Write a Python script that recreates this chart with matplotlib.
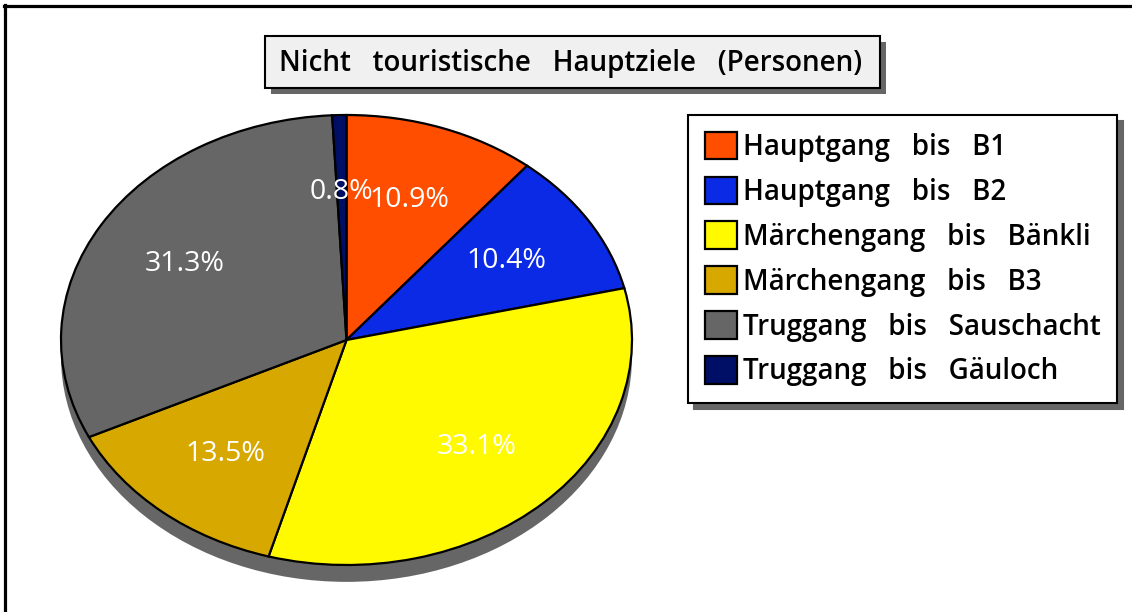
import matplotlib
matplotlib.use("Agg")
import matplotlib.pyplot as plt
from matplotlib.patches import Ellipse, Rectangle

labels = ["Hauptgang   bis   B1", "Hauptgang   bis   B2", "Märchengang   bis   Bänkli",
          "Märchengang   bis   B3", "Truggang   bis   Sauschacht", "Truggang   bis   Gäuloch"]
shares = [10.9, 10.4, 33.1, 13.5, 31.3, 0.8]
colors = ["#ff4e00", "#0a2ae6", "#fffa00", "#d6a800", "#666666", "#000f66"]
title = "Nicht   touristische   Hauptziele   (Personen)"

W, H = 1132, 612
fig = plt.figure(figsize=(W / 100, H / 100), dpi=100)
fonts = ["Open Sans", "DejaVu Sans"]

# pie area in pixels: x 61..632, y 115..565 (top face)
ax = fig.add_axes([61 / W, 1 - 565 / H, 571 / W, 450 / H])
wedges, texts, autotexts = ax.pie(
    shares, colors=colors, startangle=90, counterclock=False,
    autopct="%.1f%%", pctdistance=0.66,
    wedgeprops=dict(edgecolor="black", linewidth=1.6),
    textprops=dict(color="white", fontsize=20.5, family=fonts, weight="normal"))
ax.set_aspect("auto")
ax.set_xlim(-1, 1)
ax.set_ylim(-1, 1)
# drop shadow under the pie
ax.add_patch(Ellipse((0, -0.075), 2, 2, facecolor="#666666", edgecolor="none",
                     zorder=0, clip_on=False))

# outer frame (top and left only visible)
fig.add_artist(plt.Line2D([4 / W, 1], [1 - 6 / H, 1 - 6 / H], color="black", lw=2.3))
fig.add_artist(plt.Line2D([5 / W, 5 / W], [0, 1 - 5 / H], color="black", lw=2.3))

# title box with shadow
fig.add_artist(Rectangle((271 / W, 1 - 94 / H), 615 / W, 52 / H, transform=fig.transFigure,
                         facecolor="#666666", edgecolor="none", zorder=2))
fig.add_artist(Rectangle((265 / W, 1 - 88 / H), 615 / W, 52 / H, transform=fig.transFigure,
                         facecolor="#f0f0f0", edgecolor="black", lw=1.5, zorder=3))
fig.text(571 / W, 1 - 63 / H, title, ha="center", va="center", fontsize=20,
         family=fonts, weight="semibold", zorder=4)

leg = ax.legend(wedges, labels, loc="upper left",
                bbox_to_anchor=(688 / W, 1 - 115 / H), bbox_transform=fig.transFigure,
                borderaxespad=0, fancybox=False, frameon=True, edgecolor="black",
                shadow={"ox": 4.3, "oy": -4.3, "color": "#666666", "alpha": 1},
                prop=dict(size=20, family=fonts, weight="semibold"),
                handlelength=1.15, handleheight=1.15, handletextpad=0.22,
                labelspacing=0.53, borderpad=0.6)
leg.get_frame().set_linewidth(1.5)
leg.get_frame().set_alpha(1)

fig.savefig("out.png", dpi=100)
